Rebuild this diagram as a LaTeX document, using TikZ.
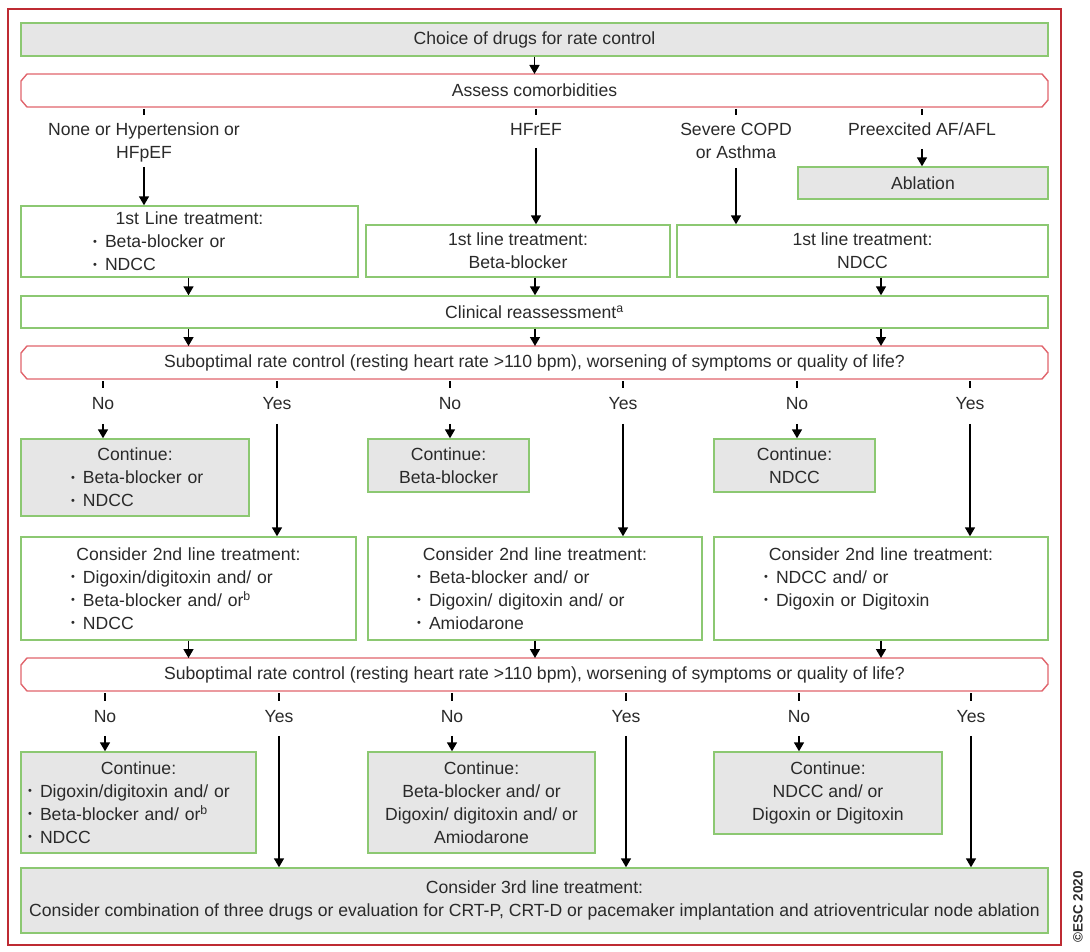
\documentclass[tikz,border=0pt]{standalone}
\usepackage{fontspec}
\setmainfont{Liberation Sans}
\usetikzlibrary{arrows.meta, positioning}
\definecolor{escRed}{HTML}{BE2B33}
\definecolor{escPink}{HTML}{E0646C}
\definecolor{escGreen}{HTML}{8CC872}
\definecolor{escGrey}{HTML}{E6E6E6}
\definecolor{escText}{HTML}{2A2A2A}
\tikzset{
  frame/.style    = {escRed, line width=2.2pt},
  greenbox/.style = {draw=escGreen, line width=1.4pt, inner sep=0pt, text=escText,
                     font=\fontsize{17.6}{23}\selectfont},
  greybox/.style  = {greenbox, fill=escGrey},
  decision/.style = {inner sep=0pt, outer sep=0pt, text=escText,
                     font=\fontsize{17.6}{23}\selectfont},
  decline/.style  = {draw=escPink, line width=1.4pt, line join=miter},
  lbl/.style      = {text=escText, align=center, inner sep=0pt, anchor=north,
                     font=\fontsize{17.6}{23}\selectfont},
  yn/.style       = {lbl, text height=12.5pt, text depth=4pt},
  arr/.style      = {-{Triangle[length=9pt,width=10pt]}, line width=1.6pt, black},
  tickln/.style   = {line width=1.6pt, black},
}
\newcommand{\bitem}[2]{\hspace*{#1pt}\makebox[12pt][l]{\raisebox{2.5pt}{\fontsize{11}{11}\selectfont\textbullet}}#2}
\newcommand{\boxtitle}[1]{\makebox[\linewidth]{#1}}
% chamfered outline round a decision node
\newcommand{\chamferbox}[1]{%
  \draw[decline] ([xshift=6pt]#1.north west) -- ([xshift=-6pt]#1.north east)
    -- ([yshift=-7pt]#1.north east) -- ([yshift=7pt]#1.south east)
    -- ([xshift=-6pt]#1.south east) -- ([xshift=6pt]#1.south west)
    -- ([yshift=7pt]#1.south west) -- ([yshift=-7pt]#1.north west) -- cycle;}

\begin{document}
\begin{tikzpicture}[x=1pt,y={(0pt,-1pt)}]
  \useasboundingbox (0,0) rectangle (1090,952);
  \draw[frame] (8,9) rectangle (1061,945);
  \node[rotate=90, text=escText, font=\fontsize{13.5}{14}\selectfont\bfseries] (copy) at (1078,907) {\textcopyright ESC 2020};

  % top
  \node[greybox, minimum width=1027pt, minimum height=33pt] (choice) at (534.5,39.5) {Choice of drugs for rate control};
  \node[decision, minimum width=1027pt, minimum height=33pt] (assess) at (534.5,90.5) {Assess comorbidities};
  \chamferbox{assess}
  \draw[arr] (choice) -- (assess);

  % comorbidities
  \node[lbl] (cNone) at (144,123) {None or Hypertension or\\HFpEF};
  \node[lbl, text height=12.5pt, text depth=4pt] (cHFrEF) at (536,123) {HFrEF};
  \node[lbl] (cCOPD) at (736,123) {Severe COPD\\or Asthma};
  \node[lbl, text height=12.5pt, text depth=4pt] (cPre) at (922,123) {Preexcited AF/AFL};
  \foreach \c in {cNone, cHFrEF, cCOPD, cPre}
    \draw[tickln, shorten <=2pt, shorten >=8pt] (assess.south -| \c) -- (\c.north);

  \node[greybox, minimum width=250pt, minimum height=32pt] (ablation) at (923,183) {Ablation};
  \node[greenbox, text width=337pt, minimum height=71pt, align=left] (first1) at (189.5,241.5)
    {\boxtitle{1st Line treatment:}\\ \bitem{72}{Beta-blocker or}\\ \bitem{72}{NDCC}};
  \node[greenbox, minimum width=304pt, minimum height=52pt, align=center] (first2) at (518,251)
    {1st line treatment:\\Beta-blocker};
  \node[greenbox, minimum width=371pt, minimum height=52pt, align=center] (first3) at (862.5,251)
    {1st line treatment:\\NDCC};
  \draw[arr, shorten <=4pt] (cNone.south) -- (cNone.south |- first1.north);
  \draw[arr, shorten <=8pt] (cHFrEF.south) -- (cHFrEF.south |- first2.north);
  \draw[arr, shorten <=9pt] (cCOPD.south) -- (cCOPD.south |- first3.north);
  \draw[arr, shorten <=9pt] (cPre.south) -- (cPre.south |- ablation.north);

  % reassessment
  \node[greenbox, minimum width=1027pt, minimum height=32pt] (clin) at (534.5,312) {Clinical reassessment\textsuperscript{a}};
  \node[decision, minimum width=1027pt, minimum height=33pt] (sub1) at (534.5,362.5)
    {Suboptimal rate control (resting heart rate >110 bpm), worsening of symptoms or quality of life?};
  \chamferbox{sub1}

  % second line
  \node[greybox, text width=228pt, minimum height=77pt, align=left] (cont1) at (135,477.5)
    {\boxtitle{Continue:}\\ \bitem{50}{Beta-blocker or}\\ \bitem{50}{NDCC}};
  \node[greybox, minimum width=161pt, minimum height=53pt, align=center] (cont2) at (448.5,465.5)
    {Continue:\\Beta-blocker};
  \node[greybox, minimum width=161pt, minimum height=53pt, align=center] (cont3) at (794.5,465.5)
    {Continue:\\NDCC};
  \node[greenbox, text width=335pt, minimum height=103pt, align=left] (second1) at (188.5,588.5)
    {\boxtitle{Consider 2nd line treatment:}\\ \bitem{50}{Digoxin/digitoxin and/ or}\\
     \bitem{50}{Beta-blocker and/ or\textsuperscript{b}}\\ \bitem{50}{NDCC}};
  \node[greenbox, text width=334pt, minimum height=103pt, align=left] (second2) at (535,588.5)
    {\boxtitle{Consider 2nd line treatment:}\\ \bitem{49}{Beta-blocker and/ or}\\
     \bitem{49}{Digoxin/ digitoxin and/ or}\\ \bitem{49}{Amiodarone}};
  \node[greenbox, text width=334pt, minimum height=103pt, align=left] (second3) at (881,588.5)
    {\boxtitle{Consider 2nd line treatment:}\\ \bitem{50}{NDCC and/ or}\\
     \bitem{50}{Digoxin or Digitoxin}\\ \mbox{}};

  \foreach \f/\s in {first1/second1, first2/second2, first3/second3} {
    \draw[arr] (\f.south -| \s.north) -- (clin.north -| \s.north);
    \draw[arr] (clin.south -| \s.north) -- (sub1.north -| \s.north);
  }

  \node[yn] (no1) at (103,397) {No};
  \node[yn] (yes1) at (277,397) {Yes};
  \node[yn] (no2) at (450,397) {No};
  \node[yn] (yes2) at (623,397) {Yes};
  \node[yn] (no3) at (797,397) {No};
  \node[yn] (yes3) at (970,397) {Yes};
  \foreach \l/\t in {no1/cont1, yes1/second1, no2/cont2, yes2/second2, no3/cont3, yes3/second3} {
    \draw[tickln, shorten <=2pt, shorten >=9pt] (sub1.south -| \l) -- (\l.north);
    \draw[arr, shorten <=10pt] (\l.south) -- (\l.south |- \t.north);
  }

  % third line
  \node[decision, minimum width=1027pt, minimum height=33pt] (sub2) at (534.5,674.5)
    {Suboptimal rate control (resting heart rate >110 bpm), worsening of symptoms or quality of life?};
  \chamferbox{sub2}
  \foreach \s in {second1, second2, second3}
    \draw[arr] (\s.south) -- (sub2.north -| \s.south);

  \node[greybox, text width=235pt, minimum height=101pt, align=left] (cont4) at (138.5,802.5)
    {\boxtitle{Continue:}\\ \bitem{7}{Digoxin/digitoxin and/ or}\\
     \bitem{7}{Beta-blocker and/ or\textsuperscript{b}}\\ \bitem{7}{NDCC}};
  \node[greybox, minimum width=227pt, minimum height=101pt, align=center] (cont5) at (481.5,802.5)
    {Continue:\\Beta-blocker and/ or\\Digoxin/ digitoxin and/ or\\Amiodarone};
  \node[greybox, minimum width=228pt, minimum height=82pt, align=center] (cont6) at (828,793)
    {Continue:\\NDCC and/ or\\Digoxin or Digitoxin};
  \node[greybox, minimum width=1027pt, minimum height=65pt, align=center] (third) at (534.5,900.5)
    {Consider 3rd line treatment:\\Consider combination of three drugs or evaluation for CRT-P, CRT-D or pacemaker implantation and atrioventricular node ablation};

  \node[yn] (no4) at (105,710) {No};
  \node[yn] (yes4) at (279,710) {Yes};
  \node[yn] (no5) at (452,710) {No};
  \node[yn] (yes5) at (626,710) {Yes};
  \node[yn] (no6) at (799,710) {No};
  \node[yn] (yes6) at (971,710) {Yes};
  \foreach \l/\t in {no4/cont4, yes4/third, no5/cont5, yes5/third, no6/cont6, yes6/third} {
    \draw[tickln, shorten <=2pt, shorten >=9pt] (sub2.south -| \l) -- (\l.north);
    \draw[arr, shorten <=9pt] (\l.south) -- (\l.south |- \t.north);
  }
\end{tikzpicture}
\end{document}
